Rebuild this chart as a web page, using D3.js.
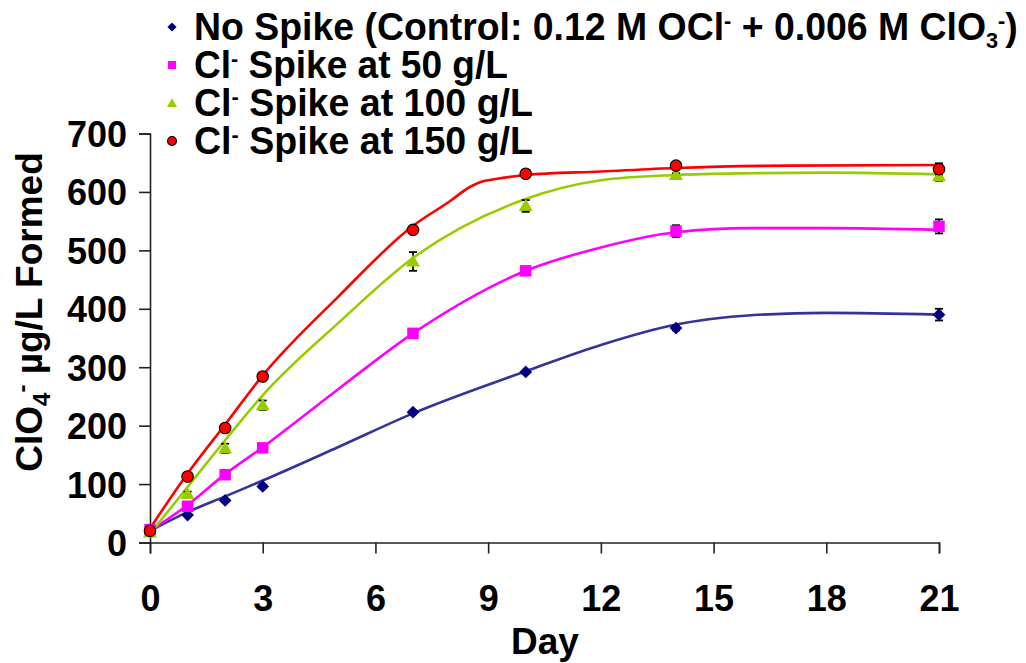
<!DOCTYPE html>
<html>
<head>
<meta charset="utf-8">
<script src="https://cdn.jsdelivr.net/npm/d3@7"></script>
<style>
  html, body { margin: 0; padding: 0; background: #fff; }
  svg { display: block; font-family: "Liberation Sans", Arial, sans-serif; font-weight: bold; }
</style>
</head>
<body>
<svg id="chart" width="1026" height="663"></svg>
<script>
// Sampling days
const days = [0, 1, 2, 3, 7, 10, 14, 21];

// Measured perchlorate formed (µg/L) and error (±)
const noSpike   = [20, 47, 72, 96, 223, 292, 367, 390];
const spike50   = [22, 62, 116, 162, 358, 465, 533, 541];
const spike100  = [17, 83, 161, 235, 481, 576, 629, 627];
const spike150  = [20, 113, 196, 284, 535, 631, 645, 639];

const errNoSpike  = [2, 2, 2, 3, 3, 3, 4, 10];
const err50       = [3, 2, 3, 3, 3, 5, 10, 12];
const err100      = [2, 4, 8, 8, 16, 10, 3, 8];
const err150      = [3, 3, 3, 3, 4, 3, 4, 10];

// Fitted trend curves (day, value)
const fitNoSpikeDays = [0, 1, 2, 3, 5, 7, 10, 12, 14, 16, 18, 21];
const fitNoSpike     = [20, 52, 79, 106, 163, 221, 293, 338, 373, 389, 393, 390];
const fit50Days      = [0, 1, 2, 3, 5, 7, 10, 12, 14, 16, 18, 21];
const fit50          = [20, 64, 117, 163, 262, 358, 465, 505, 531, 538, 538, 535];
const fit100Days     = [0, 1, 2, 3, 5, 7, 10, 12, 14, 16, 18, 21];
const fit100         = [15, 95, 175, 252, 375, 487, 588, 620, 629, 632, 633, 630];
const fit150Days     = [0, 1, 2, 3, 5, 7, 8, 8.5, 8.8, 9.2, 10, 12, 14, 17, 21];
const fit150         = [24, 118, 202, 286, 420, 542, 585, 608, 617, 622, 629, 635, 641, 645, 646];

const xTicks = [0, 3, 6, 9, 12, 15, 18, 21];
const yTicks = [0, 100, 200, 300, 400, 500, 600, 700];

const series = [
  { name: "noSpike", values: noSpike, err: errNoSpike, fitDays: fitNoSpikeDays, fit: fitNoSpike,
    marker: "diamond", fill: "#000080", line: "#333399", stroke: "none" },
  { name: "s50", values: spike50, err: err50, fitDays: fit50Days, fit: fit50,
    marker: "square", fill: "#FF00FF", line: "#FF00FF", stroke: "none" },
  { name: "s100", values: spike100, err: err100, fitDays: fit100Days, fit: fit100,
    marker: "triangle", fill: "#99CC00", line: "#99CC00", stroke: "none" },
  { name: "s150", values: spike150, err: err150, fitDays: fit150Days, fit: fit150,
    marker: "circle", fill: "#FF0000", line: "#FF0000", stroke: "#000" }
];

const svg = d3.select("#chart");
const x = d3.scaleLinear().domain([0, 21]).range([150, 939]);
const y = d3.scaleLinear().domain([0, 700]).range([542.5, 133.5]);

// Axes
const axisColor = "#222";
const yAxis = svg.append("g").attr("transform", "translate(150,0)")
  .call(d3.axisLeft(y).tickValues(yTicks).tickSize(11).tickPadding(12).tickFormat(d3.format("d")));
const xAxis = svg.append("g").attr("transform", "translate(0,542.5)")
  .call(d3.axisBottom(x).tickValues(xTicks).tickSize(11).tickPadding(32).tickFormat(d3.format("d")));
[xAxis, yAxis].forEach(g => {
  g.select(".domain").attr("stroke", axisColor).attr("stroke-width", 1.6);
  g.selectAll(".tick line").attr("stroke", axisColor).attr("stroke-width", 1.6);
  g.selectAll(".tick text").attr("fill", "#000").attr("font-size", 36)
    .attr("font-weight", "bold").attr("font-family", "Liberation Sans, Arial, sans-serif");
});
yAxis.selectAll(".tick text").attr("dy", "0.36em");

// Axis titles
svg.append("text")
  .attr("x", 545).attr("y", 654)
  .attr("text-anchor", "middle").attr("font-size", 37).text("Day");

const yTitle = svg.append("text")
  .attr("transform", "translate(42,312) rotate(-90)")
  .attr("text-anchor", "middle").attr("font-size", 37);
yTitle.append("tspan").text("ClO");
yTitle.append("tspan").attr("font-size", 24).attr("dy", 8).text("4");
yTitle.append("tspan").attr("font-size", 24).attr("dy", -20).text("-");
yTitle.append("tspan").attr("dy", 12).text(" µg/L Formed");

// Marker shapes
function markerPath(type, s) {
  if (type === "diamond") return d3.symbol(d3.symbolSquare, s * s)();
  if (type === "square") return d3.symbol(d3.symbolSquare, s * s)();
  if (type === "triangle") return d3.symbol(d3.symbolTriangle, s * s * Math.sqrt(3) / 4)();
  return d3.symbol(d3.symbolCircle, Math.PI * (s / 2) * (s / 2))();
}
function drawMarker(g, type, cx, cy, s, fill, stroke) {
  const p = g.append("path")
    .attr("d", markerPath(type, s))
    .attr("fill", fill)
    .attr("stroke", stroke)
    .attr("stroke-width", stroke === "none" ? 0 : 1.1);
  if (type === "diamond") p.attr("transform", `translate(${cx},${cy}) rotate(45)`);
  else if (type === "triangle") p.attr("transform", `translate(${cx},${cy + 1})`);
  else p.attr("transform", `translate(${cx},${cy})`);
  return p;
}

// Trend curves
const line = d3.line().x(d => x(d[0])).y(d => y(d[1])).curve(d3.curveMonotoneX);
series.forEach(s => {
  svg.append("path")
    .datum(s.fitDays.map((d, i) => [d, s.fit[i]]))
    .attr("fill", "none").attr("stroke", s.line).attr("stroke-width", 2.6)
    .attr("d", line);
});

// Error bars
series.forEach(s => {
  const g = svg.append("g").attr("stroke", "#000").attr("stroke-width", 1.8);
  days.forEach((d, i) => {
    const cx = x(d), top = y(s.values[i] + s.err[i]), bot = y(s.values[i] - s.err[i]);
    g.append("line").attr("x1", cx).attr("x2", cx).attr("y1", top).attr("y2", bot);
    g.append("line").attr("x1", cx - 4).attr("x2", cx + 4).attr("y1", top).attr("y2", top);
    g.append("line").attr("x1", cx - 4).attr("x2", cx + 4).attr("y1", bot).attr("y2", bot);
  });
});

// Data markers
const markerSize = { diamond: 9, square: 11.5, triangle: 14, circle: 11.5 };
series.forEach(s => {
  const g = svg.append("g");
  days.forEach((d, i) => drawMarker(g, s.marker, x(d), y(s.values[i]), markerSize[s.marker], s.fill, s.stroke));
});

// Legend (each row is fitted horizontally to its box width)
const legendRows = [
  { s: series[0], right: 1018, parts: [["No Spike (Control: 0.12 M OCl", 0], ["-", "sup"], [" + 0.006 M ClO", 0], ["3", "sub"], ["-", "sup"], [")", 0]] },
  { s: series[1], right: 508, parts: [["Cl", 0], ["-", "sup"], [" Spike at 50 g/L", 0]] },
  { s: series[2], right: 533, parts: [["Cl", 0], ["-", "sup"], [" Spike at 100 g/L", 0]] },
  { s: series[3], right: 533, parts: [["Cl", 0], ["-", "sup"], [" Spike at 150 g/L", 0]] }
];
const legendMarkerSize = { diamond: 6.5, square: 8, triangle: 10, circle: 9 };
const legendX = 194;
legendRows.forEach((row, r) => {
  const cy = 27 + r * 38;
  const g = svg.append("g");
  drawMarker(g, row.s.marker, 172, cy, legendMarkerSize[row.s.marker], row.s.fill, row.s.stroke);
  const t = svg.append("text").attr("x", 0).attr("y", 0).attr("font-size", 38);
  let shift = 0;
  row.parts.forEach(([txt, kind]) => {
    const ts = t.append("tspan").text(txt);
    if (kind === "sup") { ts.attr("font-size", 22).attr("dy", -12 - shift); shift = -12; }
    else if (kind === "sub") { ts.attr("font-size", 22).attr("dy", 8 - shift); shift = 8; }
    else { ts.attr("dy", -shift); shift = 0; }
  });
  const w = t.node().getBBox().width;
  const k = Math.min(1.05, (row.right - legendX) / w);
  t.attr("transform", `translate(${legendX},${cy + 13}) scale(${k},1)`);
});
</script>
</body>
</html>
